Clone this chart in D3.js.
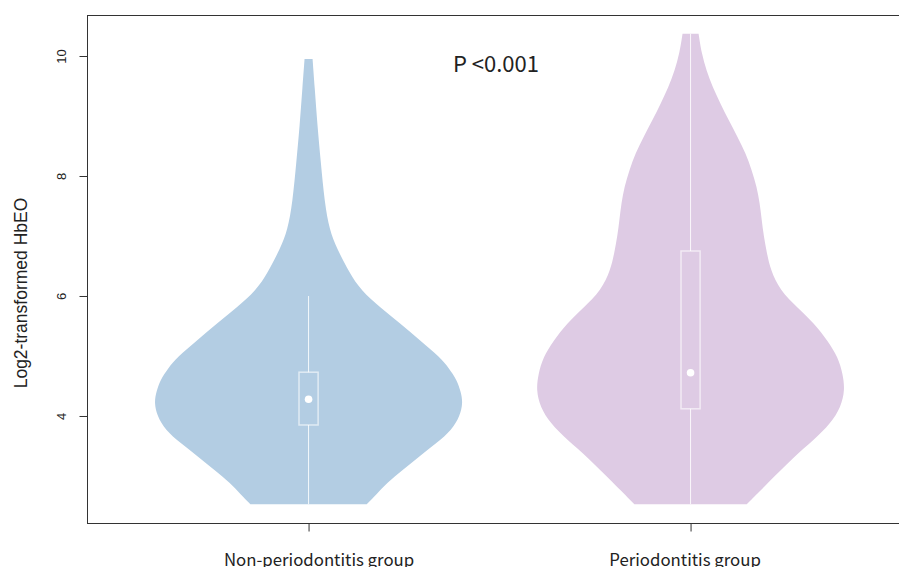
<!DOCTYPE html>
<html>
<head>
<meta charset="utf-8">
<script src="https://cdn.jsdelivr.net/npm/d3@7"></script>
<style>
  html, body { margin: 0; padding: 0; background: #fff; overflow: hidden; }
  svg { display: block; }
</style>
</head>
<body>
<svg id="chart" width="899" height="567"></svg>
<script>
// Groups and fill colours
const groups = ["Non-periodontitis group", "Periodontitis group"];
const groupColors = ["#B3CDE3", "#DECBE4"];
const yTicks = [4, 6, 8, 10];
const pLabel = "P <0.001";

// Kernel density profiles (relative density, max = 1) along log2 HbEO
const nonPerioLevels = [2.53, 2.70, 2.88, 3.10, 3.32, 3.55, 3.77, 4.00, 4.22, 4.40, 4.60, 4.80, 4.98, 5.25, 5.55, 5.80, 6.10, 6.38, 6.80, 7.10, 7.55, 8.27, 8.82, 9.50, 9.95];
const nonPerioDensity = [0.377, 0.442, 0.506, 0.610, 0.714, 0.831, 0.929, 0.981, 1.000, 0.987, 0.961, 0.909, 0.851, 0.727, 0.591, 0.468, 0.338, 0.266, 0.182, 0.136, 0.104, 0.078, 0.058, 0.039, 0.026];

const perioLevels = [2.53, 2.88, 3.32, 3.60, 3.88, 4.15, 4.43, 4.70, 4.98, 5.25, 5.55, 5.80, 6.10, 6.43, 6.72, 7.00, 7.27, 7.55, 7.82, 8.10, 8.38, 8.65, 8.93, 9.20, 9.48, 9.75, 10.05, 10.37];
const perioDensity = [0.364, 0.500, 0.669, 0.799, 0.909, 0.974, 1.000, 0.987, 0.955, 0.890, 0.799, 0.695, 0.578, 0.519, 0.494, 0.474, 0.461, 0.448, 0.429, 0.396, 0.357, 0.305, 0.247, 0.195, 0.143, 0.104, 0.071, 0.052];

// Box-plot summaries per group
const mins = [2.53, 2.53];
const q1s = [3.85, 4.12];
const medians = [4.28, 4.72];
const q3s = [4.73, 6.75];
const upperWhiskers = [6.00, 10.37];
const maxes = [9.95, 10.37];

const svg = d3.select("#chart");
const plot = { left: 87, top: 15, bottom: 523 };

// x: group positions 1..n with R-style 4% padding around [0.5, n+0.5]
const xLo = 0.5, xHi = groups.length + 0.5;
const xPad = (xHi - xLo) * 0.04;
const unitPx = 382;
const x = d3.scaleLinear()
  .domain([xLo - xPad, xHi + xPad])
  .range([plot.left, plot.left + (xHi - xLo + 2 * xPad) * unitPx]);

const yMin = d3.min(mins), yMax = d3.max(maxes);
const yPad = (yMax - yMin) * 0.04;
const y = d3.scaleLinear()
  .domain([yMin - yPad, yMax + yPad])
  .range([plot.bottom, plot.top]);

// half-width of each violin in x units
const halfWidth = d3.scaleLinear().domain([0, 1]).range([0, 0.404]);
const boxHalf = 0.025;

const profiles = [
  d3.zip(nonPerioLevels, nonPerioDensity),
  d3.zip(perioLevels, perioDensity)
];

// Violins
profiles.forEach((prof, i) => {
  const c = i + 1;
  const area = d3.area()
    .y(d => y(d[0]))
    .x0(d => x(c - halfWidth(d[1])))
    .x1(d => x(c + halfWidth(d[1])))
    .curve(d3.curveBasis);
  svg.append("path")
    .datum(prof)
    .attr("d", area)
    .attr("fill", groupColors[i])
    .attr("stroke", "none");
});

// Whiskers, boxes and medians
groups.forEach((g, i) => {
  const c = i + 1;
  const cx = x(c);
  svg.append("line")
    .attr("x1", cx).attr("x2", cx)
    .attr("y1", y(mins[i])).attr("y2", y(q1s[i]))
    .attr("stroke", "#fff").attr("stroke-opacity", 0.85).attr("stroke-width", 1);
  svg.append("line")
    .attr("x1", cx).attr("x2", cx)
    .attr("y1", y(q3s[i])).attr("y2", y(upperWhiskers[i]))
    .attr("stroke", "#fff").attr("stroke-opacity", 0.85).attr("stroke-width", 1);
  svg.append("rect")
    .attr("x", x(c - boxHalf))
    .attr("y", y(q3s[i]))
    .attr("width", x(c + boxHalf) - x(c - boxHalf))
    .attr("height", y(q1s[i]) - y(q3s[i]))
    .attr("fill", "none")
    .attr("stroke", "#fff").attr("stroke-opacity", 0.6).attr("stroke-width", 1.5);
  svg.append("circle")
    .attr("cx", cx).attr("cy", y(medians[i]))
    .attr("r", 3.8)
    .attr("fill", "#fff");
});

// Frame
svg.append("rect")
  .attr("x", plot.left + 0.5)
  .attr("y", plot.top + 0.5)
  .attr("width", x.range()[1] - plot.left)
  .attr("height", plot.bottom - plot.top)
  .attr("fill", "none")
  .attr("stroke", "#333")
  .attr("stroke-width", 1);

// Y axis
const yAxis = svg.append("g")
  .attr("transform", `translate(${plot.left + 0.5},0)`)
  .call(d3.axisLeft(y).tickValues(yTicks).tickSize(8).tickFormat(d3.format("d")));
yAxis.select(".domain").remove();
yAxis.selectAll(".tick line").attr("stroke", "#333");
yAxis.selectAll(".tick text")
  .attr("x", null).attr("dy", null)
  .attr("transform", "translate(-22,0) rotate(-90)")
  .attr("text-anchor", "middle")
  .attr("fill", "#222")
  .style("font-family", "'Liberation Sans', Arial, sans-serif")
  .style("font-size", "13px");

// X axis
const xAxis = svg.append("g")
  .attr("transform", `translate(0,${plot.bottom + 0.5})`)
  .call(d3.axisBottom(x).tickValues(groups.map((g, i) => i + 1)).tickSize(8).tickFormat((d) => groups[d - 1]));
xAxis.select(".domain").remove();
xAxis.selectAll(".tick line").attr("stroke", "#333");
xAxis.selectAll(".tick text")
  .attr("y", 42).attr("dy", null)
  .attr("dx", (d, i) => (i === 0 ? 10 : -6))
  .attr("fill", "#222")
  .style("font-family", "'Noto Sans CJK SC', 'Noto Sans', sans-serif")
  .style("font-size", "16.8px");

// Y axis title
svg.append("text")
  .attr("transform", "translate(27,293) rotate(-90)")
  .attr("text-anchor", "middle")
  .attr("fill", "#222")
  .style("font-family", "'Liberation Sans', Arial, sans-serif")
  .style("font-size", "17.5px")
  .text("Log2-transformed HbEO");

// Significance annotation
svg.append("text")
  .attr("x", 496)
  .attr("y", 72)
  .attr("text-anchor", "middle")
  .attr("fill", "#222")
  .style("font-family", "'Noto Sans CJK SC', 'Noto Sans', sans-serif")
  .style("font-size", "22px")
  .text(pLabel);
</script>
</body>
</html>
